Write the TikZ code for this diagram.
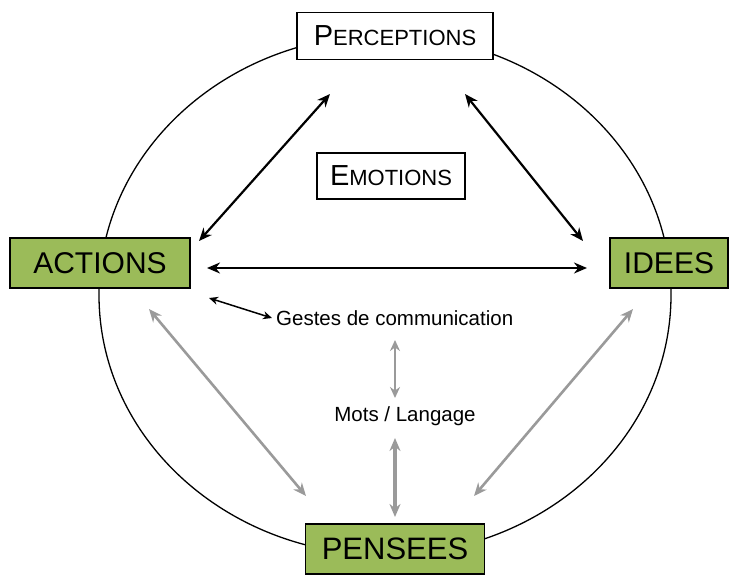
\documentclass[tikz,border=0pt]{standalone}
\usepackage{fontspec}
\setmainfont{Liberation Sans}
\usetikzlibrary{arrows.meta}
\definecolor{boxgreen}{HTML}{9BBB59}
\definecolor{arrgray}{HTML}{9A9A9A}
\tikzset{
  greenbox/.style={draw=black, line width=1.6pt, fill=boxgreen, minimum height=50pt, inner sep=0pt, font=\fontsize{30}{32}\selectfont},
  whitebox/.style={draw=black, line width=1.4pt, fill=white, inner sep=0pt},
  blk/.style={line width=2.2pt, {Stealth[length=13pt,width=11pt]}-{Stealth[length=13pt,width=11pt]}},
  gry/.style={line width=2.6pt, draw=arrgray, {Stealth[length=13pt,width=11pt]}-{Stealth[length=13pt,width=11pt]}},
  lbl/.style={font=\fontsize{20.5}{22}\selectfont, inner sep=1pt}
}
\begin{document}
\begin{tikzpicture}[x=1pt,y=-1pt]
\useasboundingbox (0,0) rectangle (739,576);
\draw[line width=1.3pt] (385,295) ellipse [x radius=286, y radius=260];
\node[whitebox, minimum width=196pt, minimum height=47pt] (perc) at (395,36) {\fontsize{29}{30}\selectfont P\fontsize{22}{24}\selectfont ERCEPTIONS};
\node[whitebox, minimum width=148pt, minimum height=46pt] (emo) at (391,176) {\fontsize{29}{30}\selectfont E\fontsize{22}{24}\selectfont MOTIONS};
\node[greenbox, minimum width=180pt] (act) at (100,263) {ACTIONS};
\node[greenbox, minimum width=118pt] (ide) at (669,263) {IDEES};
\node[greenbox, minimum width=179pt, font=\fontsize{31}{33}\selectfont] (pen) at (395,549) {PENSEES};
\node[lbl, anchor=west] (gest) at (275,318) {Gestes de communication};
\node[lbl] (mots) at (405,416) {Mots / Langage};
\coordinate (pa1) at (330,94); \coordinate (pa2) at (199,241);
\coordinate (pi1) at (465,94); \coordinate (pi2) at (583,241);
\coordinate (ai1) at (207,268); \coordinate (ai2) at (587,268);
\coordinate (ag1) at (209,298); \coordinate (ag2) at (272,318);
\coordinate (gm1) at (395,340); \coordinate (gm2) at (395,398);
\coordinate (mp1) at (395,438); \coordinate (mp2) at (395,517);
\coordinate (ap1) at (149,309); \coordinate (ap2) at (306,496);
\coordinate (ip1) at (633,309); \coordinate (ip2) at (474,496);
\draw[blk] (pa1) -- (pa2);
\draw[blk] (pi1) -- (pi2);
\draw[blk] (ai1) -- (ai2);
\draw[line width=1.5pt, {Stealth[length=9pt,width=8pt]}-{Stealth[length=9pt,width=8pt]}] (ag1) -- (ag2);
\draw[line width=1.8pt, draw=arrgray, {Stealth[length=11pt,width=10pt]}-{Stealth[length=11pt,width=10pt]}] (gm1) -- (gm2);
\draw[gry, line width=3.2pt] (mp1) -- (mp2);
\draw[gry] (ap1) -- (ap2);
\draw[gry] (ip1) -- (ip2);
\end{tikzpicture}
\end{document}
